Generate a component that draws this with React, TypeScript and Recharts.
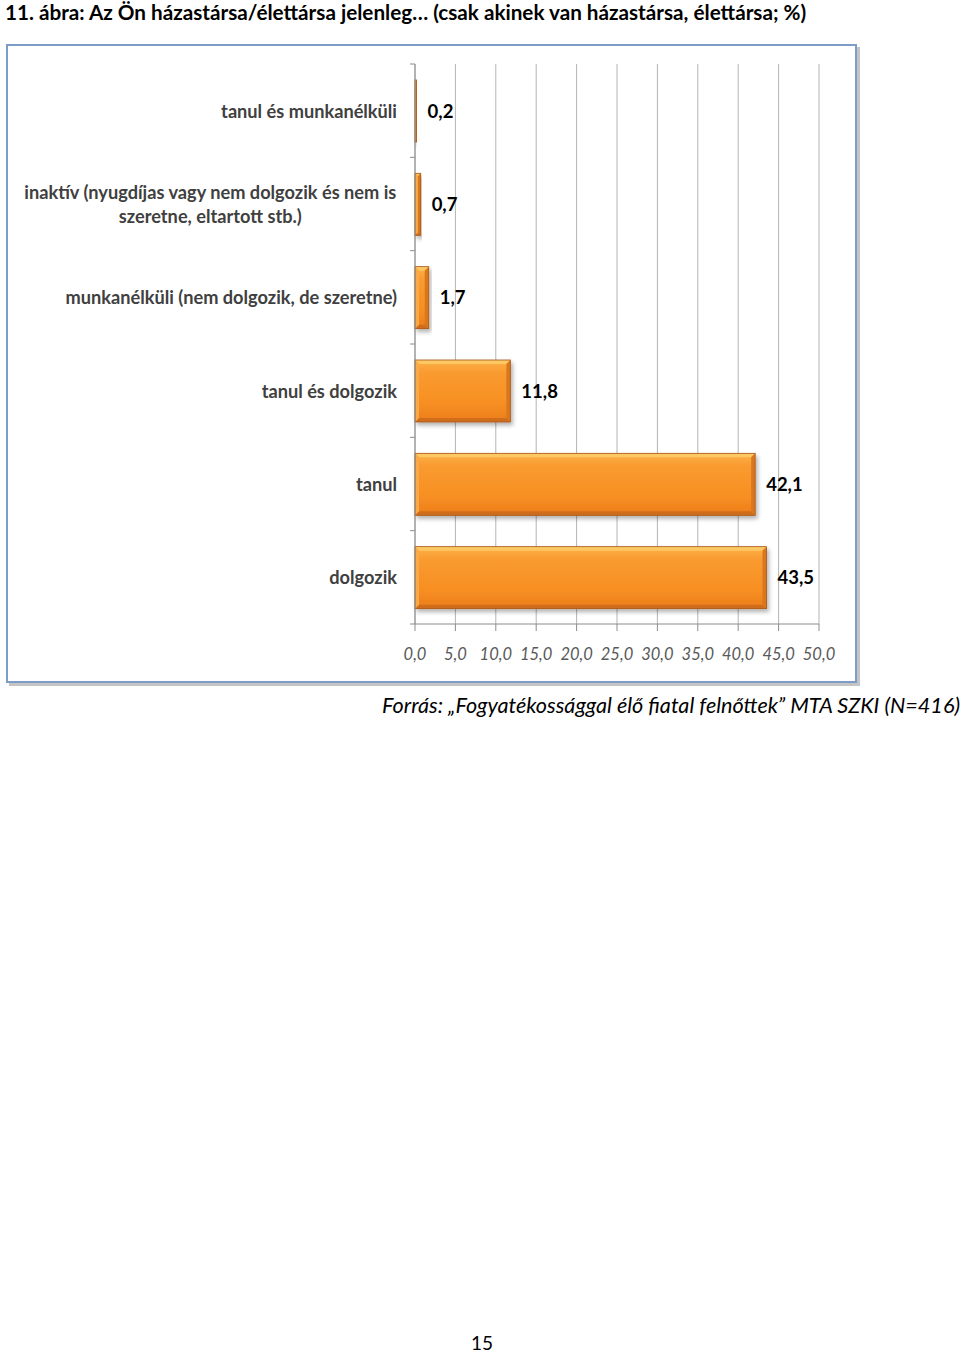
import React from 'react';
import { BarChart, Bar, XAxis, YAxis, CartesianGrid, LabelList } from 'recharts';

const categories = [
  'tanul és munkanélküli',
  'inaktív (nyugdíjas vagy nem dolgozik és nem is\nszeretne, eltartott stb.)',
  'munkanélküli (nem dolgozik, de szeretne)',
  'tanul és dolgozik',
  'tanul',
  'dolgozik',
];
const values = [0.2, 0.7, 1.7, 11.8, 42.1, 43.5];
const xTicks = [0, 5, 10, 15, 20, 25, 30, 35, 40, 45, 50];

const data = categories.map((name, i) => ({ name, value: values[i] }));

const FONT = 'Lato, "Open Sans", sans-serif';
const CAT_SIZE = 18.2;
const PLOT_TOP = 64;
const PLOT_H = 560;
const BAND = PLOT_H / categories.length;

const fmt = (v: number) => v.toFixed(1).replace('.', ',');

// measure text width so wrapped labels can be centred as a block
const measure = (s: string) => {
  const ctx = document.createElement('canvas').getContext('2d');
  if (!ctx) return s.length * CAT_SIZE * 0.5;
  ctx.font = `bold ${CAT_SIZE}px Lato`;
  return ctx.measureText(s).width;
};

const CategoryTick = (props: any) => {
  const { x, y, payload, index } = props;
  const lines = String(payload.value).split('\n');
  const lh = 24;
  const y0 = y - ((lines.length - 1) * lh) / 2;
  const right = x - 18;
  const multi = lines.length > 1;
  const blockW = multi ? Math.max(...lines.map(measure)) : 0;
  const tx = multi ? right - blockW / 2 : right;
  return (
    <g>
      <line x1={x - 5} x2={x} y1={y - BAND / 2} y2={y - BAND / 2} stroke="#8c8c8c" />
      {index === categories.length - 1 && (
        <line x1={x - 5} x2={x} y1={y + BAND / 2} y2={y + BAND / 2} stroke="#8c8c8c" />
      )}
      <text
        x={tx}
        y={y0}
        textAnchor={multi ? 'middle' : 'end'}
        dominantBaseline="central"
        fill="#404040"
        fontSize={CAT_SIZE}
        fontWeight="bold"
      >
        {lines.map((l, i) => (
          <tspan key={i} x={tx} y={y0 + i * lh}>
            {l}
          </tspan>
        ))}
      </text>
    </g>
  );
};

const BevelBar = (props: any) => {
  const { x, y, width, height } = props;
  if (!width || width <= 0) return null;
  const b = Math.min(4, width / 2);
  const r = x + width;
  const bt = y + height;
  return (
    <g filter="url(#barShadow)">
      <rect x={x} y={y} width={width} height={height} fill="url(#barFill)" />
      <polygon points={`${x},${y} ${r},${y} ${r - b},${y + b} ${x + b},${y + b}`} fill="#fcc863" />
      <polygon points={`${x},${bt} ${r},${bt} ${r - b},${bt - b} ${x + b},${bt - b}`} fill="#cf6d1b" />
      <polygon points={`${r},${y} ${r},${bt} ${r - b},${bt - b} ${r - b},${y + b}`} fill="#d9771f" />
      <polygon points={`${x},${y} ${x},${bt} ${x + b},${bt - b} ${x + b},${y + b}`} fill="#f9a944" />
      <rect x={x} y={y} width={width} height={height} fill="none" stroke="#a9561a" strokeWidth={0.8} />
    </g>
  );
};

export default function App() {
  return (
    <div style={{ position: 'absolute', left: 0, top: 0, width: 960, height: 1353, fontFamily: FONT, background: '#fff' }}>
      <div style={{ position: 'absolute', left: 5, top: 0, fontSize: 20.7, fontWeight: 'bold', color: '#000', whiteSpace: 'nowrap' }}>
        11. ábra: Az Ön házastársa/élettársa jelenleg… (csak akinek van házastársa, élettársa; %)
      </div>
      <div
        style={{
          position: 'absolute',
          left: 6,
          top: 44,
          width: 847,
          height: 635,
          border: '2px solid #7d9dc8',
          boxShadow: '3px 3px 0 #c4c4c4',
          background: '#fff',
        }}
      />
      <div style={{ position: 'absolute', left: 0, top: 0 }}>
        <BarChart
          width={960}
          height={700}
          data={data}
          layout="vertical"
          barSize={62}
          margin={{ top: PLOT_TOP, right: 141, bottom: 36, left: 15 }}
        >
          <defs>
            <linearGradient id="barFill" x1="0" y1="0" x2="0" y2="1">
              <stop offset="0%" stopColor="#fdb24a" />
              <stop offset="20%" stopColor="#f99b30" />
              <stop offset="70%" stopColor="#f78f22" />
              <stop offset="100%" stopColor="#ec7d1c" />
            </linearGradient>
            <filter id="barShadow" x="-10%" y="-10%" width="130%" height="140%">
              <feDropShadow dx="2" dy="3" stdDeviation="2" floodColor="#000" floodOpacity="0.3" />
            </filter>
          </defs>
          <CartesianGrid vertical horizontal={false} stroke="#b4b4b4" />
          <XAxis
            type="number"
            domain={[0, 50]}
            ticks={xTicks}
            interval={0}
            height={40}
            tickFormatter={fmt}
            stroke="#8c8c8c"
            tickSize={7}
            tickMargin={17}
            tick={{ fill: '#595959', fontSize: 16.5, fontStyle: 'italic' }}
          />
          <YAxis
            type="category"
            dataKey="name"
            width={400}
            stroke="#8c8c8c"
            tickLine={false}
            tickSize={0}
            tickMargin={0}
            interval={0}
            tick={<CategoryTick />}
          />
          <Bar dataKey="value" shape={<BevelBar />} isAnimationActive={false}>
            <LabelList
              dataKey="value"
              position="right"
              offset={11}
              formatter={(v: any) => fmt(Number(v))}
              fill="#000"
              fontSize={18.5}
              fontWeight="bold"
            />
          </Bar>
        </BarChart>
      </div>
      <div style={{ position: 'absolute', right: 0, top: 692, fontSize: 21.6, fontStyle: 'italic', color: '#000', whiteSpace: 'nowrap' }}>
        Forrás: „Fogyatékossággal élő fiatal felnőttek” MTA SZKI (N=416)
      </div>
      <div style={{ position: 'absolute', left: 0, width: 964, top: 1331, textAlign: 'center', fontSize: 19, color: '#000' }}>
        15
      </div>
    </div>
  );
}
